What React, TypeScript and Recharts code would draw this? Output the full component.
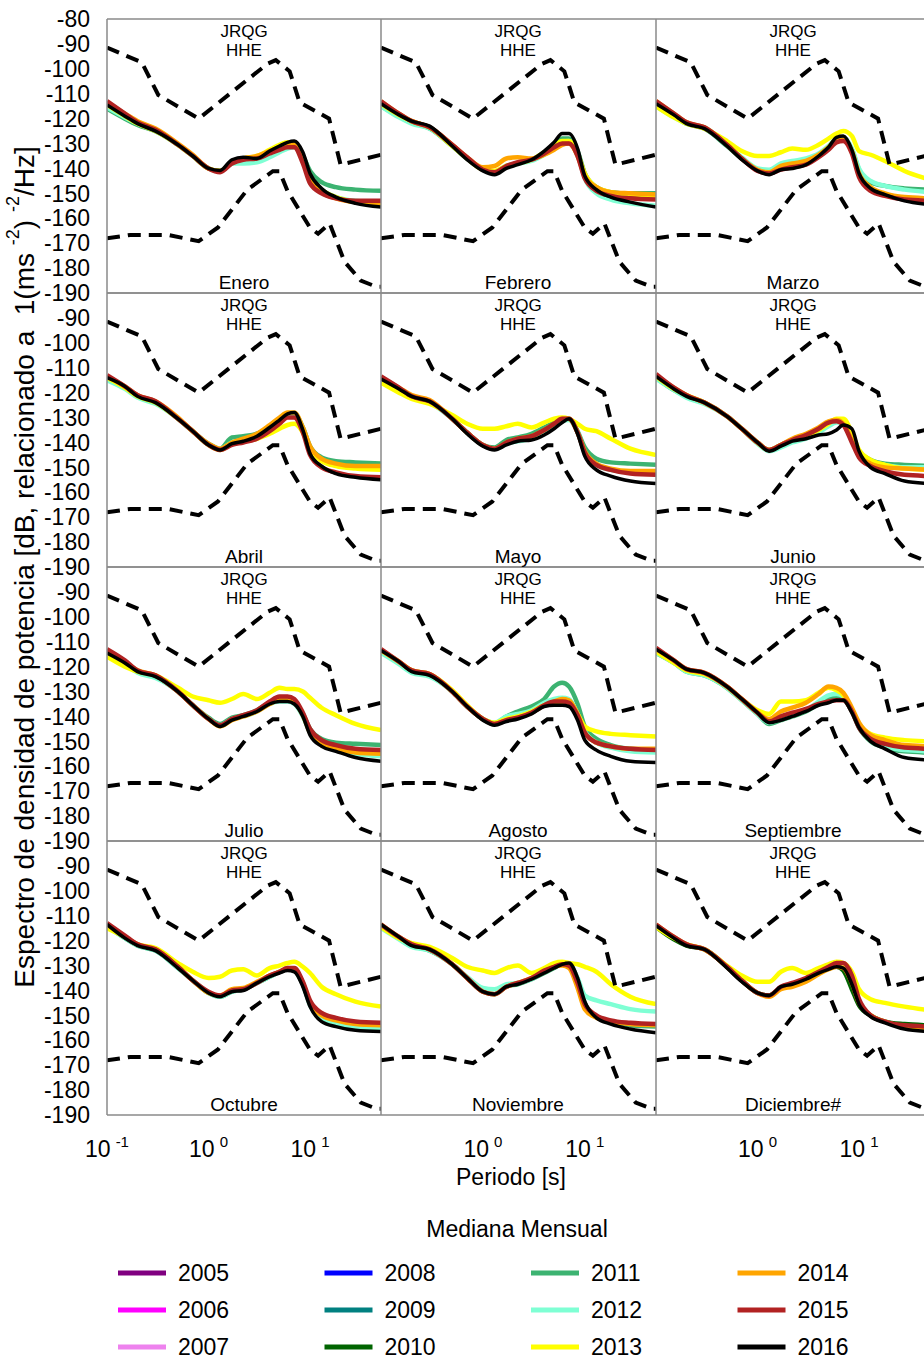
import React from "react";
import { Line, LineChart, XAxis, YAxis } from "recharts";

const FONT = '"Liberation Sans", Arial, Helvetica, sans-serif';
const AX = "#8a8a8a";

// periods (s) at which the monthly medians were read
const PERIODS = [0.1, 0.15, 0.2, 0.3, 0.5, 0.7, 1, 1.3, 1.7, 2.2, 3, 4, 5, 6, 7, 8.5, 10, 13, 18, 28, 50];

// Peterson noise models (dashed)
const NHNM_T = [0.1, 0.22, 0.32, 0.8, 3.8, 4.6, 6.3, 7.9, 15.4, 20, 50];
const NHNM_DB = [-91.5, -97.4, -110.5, -120, -98, -96.5, -101, -113.5, -120, -138.5, -134.5];
const NLNM_T = [0.1, 0.17, 0.4, 0.8, 1.24, 2.4, 4.3, 5, 6, 10, 12, 15.6, 21.9, 31.6, 45, 50];
const NLNM_DB = [-168, -166.7, -166.7, -169.2, -163.7, -148.6, -141.1, -141.1, -149, -163.8, -166.2, -162.1, -177.5, -185, -187.5, -187.5];

const YEARS = [2005, 2006, 2007, 2008, 2009, 2010, 2011, 2012, 2013, 2014, 2015, 2016];
const YEAR_COLORS = [
  "#800080", "#ff00ff", "#ee82ee", "#0000ff", "#008080", "#006400",
  "#3cb371", "#7fffd4", "#ffff00", "#ffa500", "#b22222", "#000000",
];

const MONTHS = [
  "Enero", "Febrero", "Marzo", "Abril", "Mayo", "Junio",
  "Julio", "Agosto", "Septiembre", "Octubre", "Noviembre", "Diciembre#",
];

const Y_TICKS = [-80, -90, -100, -110, -120, -130, -140, -150, -160, -170, -180, -190];
const X_MINOR = [0.1, 0.2, 0.3, 0.4, 0.5, 0.6, 0.7, 0.8, 0.9, 1, 2, 3, 4, 5, 6, 7, 8, 9, 10, 20, 30, 40, 50];
const X_LABELS_FIRST = [0.1, 1, 10];
const X_LABELS = [1, 10];

type Curves = Record<number, number[]>;

const ENERO: Curves = {
  2011: [-116, -120, -122.5, -125, -130.5, -135, -140, -141, -138, -137, -136.5, -134, -132, -131, -131, -135, -141, -145.5, -147.5, -148.5, -149],
  2012: [-115.5, -119.5, -122, -125, -130.5, -135, -140, -141, -138, -138, -137.5, -135.5, -133.5, -132, -131.5, -136, -143, -148.5, -151.5, -153, -153.5],
  2013: [-114.5, -119, -122, -125, -130.5, -135, -140, -141, -137.5, -136, -135, -132.5, -130.5, -129.5, -130, -135, -143, -148.5, -151.5, -153.5, -154.5],
  2014: [-113.5, -118, -121, -124, -130, -134.5, -140, -141, -137.5, -136, -135, -133, -131.5, -130, -130, -135, -144, -149.5, -152, -153.5, -154],
  2015: [-113, -118, -121.5, -124.5, -130.5, -135, -140, -141.5, -138, -136.5, -136, -134, -132.5, -131.5, -131.5, -138, -146, -150, -152, -153, -153],
  2016: [-114.5, -119, -122, -125, -130.5, -135, -140, -140.8, -136.5, -135.5, -136, -133, -131, -129.5, -129, -133.5, -142, -148, -151.5, -154, -155.5],
};

const FEBRERO: Curves = {
  2011: [-115, -119, -121.5, -124, -131, -136, -140.5, -141.5, -139, -138, -136.5, -133.5, -130.5, -128, -128, -133, -142, -147.5, -149.5, -150, -150],
  2012: [-115, -119.5, -122, -124, -131, -136, -140.5, -141.5, -139, -138, -137, -134.5, -132, -129.5, -129, -134, -144, -150, -152.5, -154, -155],
  2013: [-114, -118.5, -121, -123.5, -131, -136, -140.5, -141, -139, -138, -136.5, -133.5, -131, -129, -129, -134, -142, -147.5, -149.5, -150.5, -151],
  2014: [-113, -118, -121, -123.5, -130.5, -135.5, -139.5, -139, -136, -135.5, -136, -134.5, -132.5, -130.5, -130, -135, -143, -147.5, -149.5, -150, -150.5],
  2015: [-113, -118, -121, -123.5, -130.5, -135.5, -140.5, -141.5, -139, -137.5, -136.5, -134, -131.5, -130, -130, -135, -144, -149, -151, -152, -152.5],
  2016: [-114, -118.5, -121, -123, -131, -136.5, -141, -142.5, -140, -138.5, -136.5, -133, -129.5, -126, -126, -132, -143, -148.5, -151.5, -153.5, -155.5],
};

const MARZO: Curves = {
  2011: [-115, -119, -122, -124, -131, -136, -140.5, -141.5, -139.5, -138.5, -137.5, -134.5, -131.5, -128.5, -128, -132.5, -140.5, -145.5, -147, -148, -148.5],
  2012: [-115, -119.5, -122, -123.5, -130.5, -135.5, -140, -140.5, -138, -137, -136, -134, -131, -128, -127.5, -132, -140, -145, -147, -148.5, -149.5],
  2013: [-115, -119.5, -122, -124, -129, -133, -135, -135, -133.5, -132, -132.5, -130.5, -128, -126, -125, -127, -133, -134.5, -137, -141, -144.5],
  2014: [-113, -118, -121.5, -123.5, -130.5, -136, -140.5, -141.5, -139, -138, -137, -134.5, -131.5, -128.5, -128.5, -133, -142, -147.5, -150, -151.5, -152],
  2015: [-113, -118, -121.5, -123.5, -130.5, -136, -141, -142, -140.5, -139.5, -138.5, -135.5, -132.5, -129.5, -129, -134, -143.5, -149, -151, -152.5, -153],
  2016: [-114, -118.5, -122, -124, -131, -136.5, -141, -142.5, -140.5, -140, -138.5, -135, -131.5, -127.5, -127, -132.5, -142, -148, -150.5, -153, -154.5],
};

const ABRIL: Curves = {
  2011: [-114.5, -118, -121.5, -124, -130.5, -135.5, -140.5, -142.5, -138, -137.5, -136.5, -133.5, -130.5, -128.5, -128.5, -134, -141.5, -146, -147.5, -148, -148.5],
  2012: [-115, -118.5, -122, -124.5, -130.5, -135.5, -141, -142.5, -140, -139, -137.5, -134.5, -131.5, -129.5, -129.5, -135, -142.5, -147, -149, -150, -150.5],
  2013: [-114, -118, -121.5, -124, -130.5, -135.5, -141, -143, -140.5, -139.5, -138.5, -136.5, -134.5, -133, -132.5, -136, -142.5, -147.5, -149.5, -150.5, -151],
  2014: [-113.5, -117.5, -121, -123.5, -130, -135.5, -140.5, -142.5, -140, -138.5, -136.5, -133, -130, -128, -128, -134, -141.5, -146.5, -148.5, -149.5, -149.5],
  2015: [-113, -117.5, -121, -123.5, -130.5, -135.5, -141, -143, -141, -140, -138.5, -135.5, -132.5, -130, -130, -136, -145, -150, -152, -153.5, -154],
  2016: [-114, -117.5, -121.5, -124, -130.5, -135.5, -141, -143, -140.5, -139.5, -137.5, -134, -131, -128.5, -128, -135, -144.5, -149.5, -152.5, -154, -155],
};

const MAYO: Curves = {
  2011: [-114.5, -118.5, -121.5, -123.5, -130.5, -136, -141, -142, -139, -138, -136.5, -134, -132, -130.5, -130.5, -135.5, -142, -146.5, -148, -148.5, -149],
  2012: [-115, -119, -122, -124, -130.5, -136, -141, -142.5, -140.5, -139.5, -138.5, -136, -133.5, -131.5, -131, -136, -144, -149, -151, -152, -152.5],
  2013: [-116, -120, -122.5, -124.5, -129, -132.5, -134.5, -134.5, -133.5, -132.5, -134, -132, -130.5, -130, -130.5, -132.5, -134.5, -135.5, -138.5, -142.5, -145],
  2014: [-114, -118, -121, -123, -130.5, -136, -141, -142.5, -140, -138.5, -137.5, -135, -132.5, -130.5, -130.5, -136, -143.5, -148.5, -150.5, -151.5, -151.5],
  2015: [-113.5, -118, -121.5, -123.5, -130.5, -136, -141, -142.5, -140, -138.5, -137.5, -135, -132.5, -130.5, -130.5, -136, -144, -149, -151, -152.5, -153],
  2016: [-114.5, -118.5, -121.5, -123.5, -130.5, -136.5, -141.5, -143, -141, -139.5, -139, -137, -134.5, -132, -130.5, -136.5, -145.5, -151, -153.5, -155.5, -156.5],
};

const JUNIO: Curves = {
  2011: [-114, -119, -121.5, -124, -129.5, -134.5, -140, -143, -141, -139, -137.5, -135, -133, -131.5, -131.5, -137, -143.5, -147, -148.5, -149, -149.5],
  2012: [-114.5, -119, -122, -124.5, -129.5, -134.5, -140.5, -143.5, -142, -140, -138.5, -136, -133.5, -132, -132, -137, -144, -147.5, -149, -150, -150],
  2013: [-113.5, -118.5, -121, -124, -129.5, -134.5, -140, -143, -141, -139, -137.5, -135, -132.5, -130.5, -130.5, -136, -143, -147, -149, -150.5, -151],
  2014: [-113, -118, -121, -124, -129.5, -134.5, -140, -143, -141, -138.5, -136.5, -134, -131.5, -131, -132.5, -139, -145, -148.5, -150, -150.5, -151],
  2015: [-112.5, -118, -121, -124, -129.5, -134.5, -140, -143, -141, -139, -137, -134.5, -132, -131.5, -133, -140, -146, -149.5, -151.5, -153, -153.5],
  2016: [-113.5, -118.5, -121.5, -124, -129.5, -134.5, -140, -143.5, -141.5, -139.5, -138.5, -137, -136.5, -135, -133, -134.5, -143.5, -150, -152.5, -155.5, -156.5],
};

const JULIO: Curves = {
  2011: [-114, -118.5, -122, -124, -130, -135.5, -140.5, -143, -140.5, -139.5, -137.5, -134.5, -133.5, -133.5, -134.5, -139, -145, -149, -150.5, -151, -151.5],
  2012: [-114.5, -119, -122.5, -124.5, -130, -135.5, -141, -143.5, -141, -140, -138, -135, -134, -134, -135, -140, -146.5, -151, -153.5, -155, -156],
  2013: [-116, -120, -122, -123.5, -128.5, -132, -133.5, -134.5, -133, -131, -133, -130.5, -128.5, -129, -129, -130, -132.5, -136.5, -139.5, -143, -145.5],
  2014: [-113.5, -118, -121.5, -123.5, -130, -135.5, -141, -144, -141.5, -140, -138, -135, -133.5, -133.5, -134.5, -139.5, -146.5, -151, -153, -154.5, -155],
  2015: [-113, -117.5, -121.5, -123.5, -130, -135.5, -141, -143.5, -141, -139.5, -137.5, -134, -132, -132, -133, -138.5, -145, -149.5, -151.5, -153, -153.5],
  2016: [-114.5, -118.5, -122, -124, -130, -135.5, -141, -144, -141.5, -140, -138, -135, -134, -134, -135, -140, -147.5, -152, -154, -156.5, -158],
};

const AGOSTO: Curves = {
  2011: [-114, -118.5, -122, -123.5, -130, -136, -141, -143, -140, -138, -136, -133, -128, -126.5, -128, -135, -144, -149, -151.5, -153, -153.5],
  2012: [-114.5, -119, -122.5, -124, -130, -136, -141, -142.5, -140, -139, -137.5, -134.5, -133, -132.5, -133, -139, -146, -150.5, -152.5, -154, -154.5],
  2013: [-113.5, -118, -121.5, -123, -129.5, -135.5, -141, -142.5, -141, -140, -138, -135.5, -134.5, -134.5, -135, -139, -144, -146, -147, -147.5, -148],
  2014: [-113.5, -118, -121.5, -123, -130, -136, -141, -143, -141.5, -140.5, -138.5, -135.5, -134, -133, -133.5, -139, -146.5, -150.5, -152, -153, -153],
  2015: [-113, -118, -121.5, -123, -130, -136, -141, -143, -141.5, -140.5, -138.5, -135.5, -134, -134, -134.5, -139.5, -146.5, -150.5, -152, -153, -153.5],
  2016: [-113.5, -118, -122, -123.5, -130, -136, -141.5, -143.5, -142, -141, -139, -136, -135.5, -135.5, -136, -141.5, -149.5, -153.5, -156, -158, -158.5],
};

const SEPTIEMBRE: Curves = {
  2011: [-114.5, -118.5, -122, -123.5, -128.5, -133.5, -139, -143, -141.5, -140, -138, -135, -133, -132.5, -133, -138, -144.5, -150, -152.5, -154, -154.5],
  2012: [-114.5, -118.5, -122, -123.5, -128.5, -133.5, -139, -142.5, -141, -139.5, -137.5, -134, -131.5, -131, -132, -137.5, -144, -149.5, -152, -153.5, -154],
  2013: [-114, -118.5, -121.5, -123, -128, -133, -137.5, -139, -134, -134, -133.5, -130.5, -128.5, -129.5, -131.5, -137.5, -143, -147, -148.5, -149.5, -150],
  2014: [-113, -117.5, -121, -122.5, -128, -133, -138.5, -141, -138, -136.5, -134.5, -131, -128, -128.5, -130.5, -136.5, -142.5, -147.5, -149.5, -151.5, -152],
  2015: [-112.5, -117.5, -121, -122.5, -128, -133, -138.5, -142, -140, -138.5, -137, -135, -134, -133.5, -133.5, -138, -144.5, -149, -151, -152.5, -153],
  2016: [-113, -117.5, -121, -122.5, -128, -133, -138.5, -142.5, -141.5, -140, -138, -135.5, -134.5, -133.5, -133.5, -138.5, -144.5, -150, -153, -156.5, -157.5],
};

const OCTUBRE: Curves = {
  2011: [-114, -119, -122, -124, -131, -136, -141, -142.5, -140.5, -139.5, -137, -134.5, -132.5, -131.5, -132, -137.5, -145.5, -151, -153, -154.5, -155],
  2012: [-114.5, -119, -122, -124, -131, -136, -141, -142.5, -140.5, -139.5, -137, -134.5, -132.5, -131.5, -132, -137.5, -146, -151.5, -153.5, -155, -155.5],
  2013: [-115, -118.5, -121.5, -123, -129, -132.5, -135, -134.5, -132, -131.5, -134, -131, -130, -129, -128.5, -130.5, -133, -138.5, -141.5, -144.5, -146.5],
  2014: [-113.5, -118.5, -121.5, -123.5, -130.5, -136, -141, -142, -139.5, -139, -136.5, -134, -132.5, -131.5, -131.5, -137, -145, -150, -152, -153.5, -154],
  2015: [-113, -118, -121.5, -123.5, -130.5, -136, -140.5, -142, -140, -139.5, -137, -134, -132.5, -131, -131, -136.5, -144, -149, -151, -152.5, -153],
  2016: [-113.5, -119, -122, -124, -131, -136, -141, -142.5, -140.5, -140, -137, -134.5, -133, -132, -132.5, -138.5, -146.5, -152.5, -154.5, -156, -156.5],
};

const NOVIEMBRE: Curves = {
  2011: [-114, -119, -122, -124, -129.5, -135, -140.5, -141.5, -138.5, -137.5, -135.5, -133, -131, -129.5, -129.5, -135.5, -145, -150.5, -152.5, -154, -154.5],
  2012: [-115, -119.5, -122.5, -124, -129.5, -134.5, -139, -139.5, -137.5, -137, -135.5, -132.5, -130.5, -129.5, -130, -135, -142, -144, -145.5, -147.5, -148.5],
  2013: [-114.5, -119, -121, -122.5, -127, -130.5, -132, -133, -131, -130, -133, -131, -129, -128.5, -129, -129.5, -130.5, -132.5, -137.5, -142.5, -145.5],
  2014: [-113.5, -118.5, -121.5, -123.5, -129.5, -135, -140.5, -141.5, -138.5, -137, -135, -132.5, -130.5, -130, -131, -139, -147.5, -151, -152.5, -153.5, -154],
  2015: [-113.5, -118.5, -121.5, -123.5, -129.5, -135, -140.5, -141.5, -138.5, -137, -135, -132, -130.5, -129.5, -130, -137, -145.5, -150, -152, -153, -153.5],
  2016: [-113.5, -118.5, -122, -123.5, -129.5, -135, -140.5, -141.5, -138.5, -137.5, -135.5, -133, -131, -129.5, -129, -135, -144.5, -151, -153.5, -155.5, -157],
};

const DICIEMBRE: Curves = {
  2010: [-114.5, -119.5, -122, -123.5, -130.5, -136, -141, -142, -139, -138, -136, -133, -131, -130.5, -132, -139.5, -146, -150, -152.5, -153.5, -154],
  2013: [-114.5, -119, -121.5, -123.5, -130, -134, -136.5, -136.5, -132.5, -131, -133, -131, -129.5, -128.5, -129, -132.5, -139.5, -143.5, -145, -146.5, -148],
  2014: [-113.5, -118.5, -121.5, -123.5, -130.5, -136, -141, -142.5, -139.5, -138.5, -136.5, -133.5, -131.5, -130.5, -131, -137, -145, -150, -152.5, -154.5, -155],
  2015: [-113.5, -118.5, -121.5, -123.5, -130.5, -136, -141, -142, -138.5, -137, -135, -132.5, -130.5, -129, -129, -134, -143.5, -150, -152.5, -154, -154.5],
  2016: [-114, -119, -122, -123.5, -131, -136.5, -141, -142, -138.5, -137.5, -135.5, -133, -131.5, -130.5, -131, -137.5, -145.5, -150.5, -153, -155.5, -156.5],
};

const MONTH_CURVES = [ENERO, FEBRERO, MARZO, ABRIL, MAYO, JUNIO, JULIO, AGOSTO, SEPTIEMBRE, OCTUBRE, NOVIEMBRE, DICIEMBRE];

// layout
const PLOT_X = [107, 381, 656];
const PLOT_W = [274, 275, 274];
const PLOT_Y = [19, 293, 567, 841];
const PLOT_H = 274;
const PAD = 14;
const XLAB_H = 60;

function buildRows(curves: Curves) {
  const ts = Array.from(new Set([...PERIODS, ...NHNM_T, ...NLNM_T])).sort((a, b) => a - b);
  return ts.map((p) => {
    const row: Record<string, number | null> = { p };
    const i = PERIODS.indexOf(p);
    for (const y of Object.keys(curves)) row[`y${y}`] = i >= 0 ? curves[Number(y)][i] : null;
    const h = NHNM_T.indexOf(p);
    row.nhnm = h >= 0 ? NHNM_DB[h] : null;
    const l = NLNM_T.indexOf(p);
    row.nlnm = l >= 0 ? NLNM_DB[l] : null;
    return row;
  });
}

function PowTick(props: any) {
  const { x, y, payload } = props;
  const exp = Math.round(Math.log10(payload.value));
  return (
    <text x={x} y={y + 42} textAnchor="middle" fontSize={23} fontFamily={FONT} fill="#000">
      <tspan>10</tspan>
      <tspan dx={5} dy={-10} fontSize={15}>{exp}</tspan>
    </text>
  );
}

function Panel({ index }: { index: number }) {
  const row = Math.floor(index / 3);
  const col = index % 3;
  const curves = MONTH_CURVES[index];
  const data = buildRows(curves);
  const first = col === 0;
  const last = row === 3;
  const left = first ? 0 : PLOT_X[col];
  const width = first ? PLOT_X[0] + PLOT_W[0] : PLOT_W[col];
  const top = PLOT_Y[row] - PAD;
  const height = PLOT_H + PAD + (last ? XLAB_H : PAD);
  const xCommon = {
    dataKey: "p",
    type: "number" as const,
    scale: "log" as const,
    domain: [0.1, 50],
    allowDataOverflow: true,
  };
  const frame = { stroke: AX, strokeWidth: 1.5 };
  const years = Object.keys(curves).map(Number).sort((a, b) => a - b);

  return (
    <div style={{ position: "absolute", left, top, width, height }}>
      <LineChart
        width={width}
        height={height}
        data={data}
        margin={{ top: PAD, right: 0, bottom: last ? 0 : PAD, left: 0 }}
      >
        <XAxis xAxisId="b" orientation="bottom" mirror {...xCommon} ticks={X_MINOR} interval={0} tick={false} tickSize={5} axisLine={frame} tickLine={{ stroke: AX }} />
        <XAxis xAxisId="t" orientation="top" mirror {...xCommon} ticks={X_MINOR} interval={0} tick={false} tickSize={5} axisLine={frame} tickLine={{ stroke: AX }} />
        <YAxis yAxisId="l" orientation="left" mirror type="number" domain={[-190, -80]} allowDataOverflow ticks={Y_TICKS} interval={0} tick={false} tickSize={5} axisLine={frame} tickLine={{ stroke: AX }} />
        <YAxis yAxisId="r" orientation="right" mirror type="number" domain={[-190, -80]} allowDataOverflow ticks={Y_TICKS} interval={0} tick={false} tickSize={5} axisLine={frame} tickLine={{ stroke: AX }} />
        {last && (
          <XAxis
            xAxisId="lab"
            orientation="bottom"
            height={XLAB_H}
            {...xCommon}
            ticks={first ? X_LABELS_FIRST : X_LABELS}
            interval={0}
            tickLine={false}
            axisLine={false}
            tickSize={0}
            tickMargin={0}
            tick={<PowTick />}
          />
        )}
        {first && (
          <YAxis
            yAxisId="lab"
            orientation="left"
            width={PLOT_X[0]}
            type="number"
            domain={[-190, -80]}
            allowDataOverflow
            ticks={row === 0 ? Y_TICKS : Y_TICKS.slice(1)}
            interval={0}
            tickLine={false}
            axisLine={false}
            tickSize={0}
            tickMargin={17}
            tick={{ fontSize: 23, fill: "#000", fontFamily: FONT }}
          />
        )}
        {years.map((y) => (
          <Line
            key={y}
            xAxisId="b"
            yAxisId="l"
            type="monotone"
            dataKey={`y${y}`}
            stroke={YEAR_COLORS[YEARS.indexOf(y)]}
            strokeWidth={y === 2016 ? 3.5 : 4.5}
            dot={false}
            connectNulls
            isAnimationActive={false}
          />
        ))}
        <Line xAxisId="b" yAxisId="l" type="linear" dataKey="nhnm" stroke="#000" strokeWidth={4} strokeDasharray="13 8" dot={false} connectNulls isAnimationActive={false} />
        <Line xAxisId="b" yAxisId="l" type="linear" dataKey="nlnm" stroke="#000" strokeWidth={4} strokeDasharray="13 8" dot={false} connectNulls isAnimationActive={false} />
      </LineChart>
    </div>
  );
}

export default function App() {
  return (
    <div
      style={{
        position: "absolute",
        left: 0,
        top: 0,
        width: 924,
        height: 1362,
        overflow: "hidden",
        background: "#fff",
        fontFamily: FONT,
      }}
    >
      {MONTHS.map((m, i) => (
        <Panel key={m} index={i} />
      ))}
      <svg width={924} height={1362} style={{ position: "absolute", left: 0, top: 0, pointerEvents: "none" }}>
        <g fontFamily={FONT} fill="#000">
          {MONTHS.map((m, i) => {
            const cx = PLOT_X[i % 3] + 137;
            const y0 = PLOT_Y[Math.floor(i / 3)];
            return (
              <g key={m} textAnchor="middle">
                <text x={cx} y={y0 + 17.5} fontSize={17}>JRQG</text>
                <text x={cx} y={y0 + 37} fontSize={17}>HHE</text>
                <text x={cx} y={y0 + 270} fontSize={19}>{m}</text>
              </g>
            );
          })}
          <text
            transform="translate(24 567) rotate(-90)"
            textAnchor="middle"
            dominantBaseline="central"
            fontSize={28}
            style={{ whiteSpace: "pre" }}
          >
            {"Espectro de densidad de potencia [dB, relacionado a  1(ms "}
            <tspan dy={-11} fontSize={18}>-2</tspan>
            <tspan dy={11}>{") "}</tspan>
            <tspan dy={-11} fontSize={18}>-2</tspan>
            <tspan dy={11}>/Hz]</tspan>
          </text>
          <text x={511} y={1177} textAnchor="middle" dominantBaseline="central" fontSize={23}>
            Periodo [s]
          </text>
          <text x={517} y={1229} textAnchor="middle" dominantBaseline="central" fontSize={23}>
            Mediana Mensual
          </text>
          {YEARS.map((yr, i) => {
            const c = Math.floor(i / 3);
            const r = i % 3;
            const x = 118 + c * 206.5;
            const y = 1273 + r * 37;
            return (
              <g key={yr}>
                <line x1={x} x2={x + 48} y1={y} y2={y} stroke={YEAR_COLORS[i]} strokeWidth={5} />
                <text x={x + 60} y={y} dominantBaseline="central" fontSize={23}>
                  {yr}
                </text>
              </g>
            );
          })}
        </g>
      </svg>
    </div>
  );
}
